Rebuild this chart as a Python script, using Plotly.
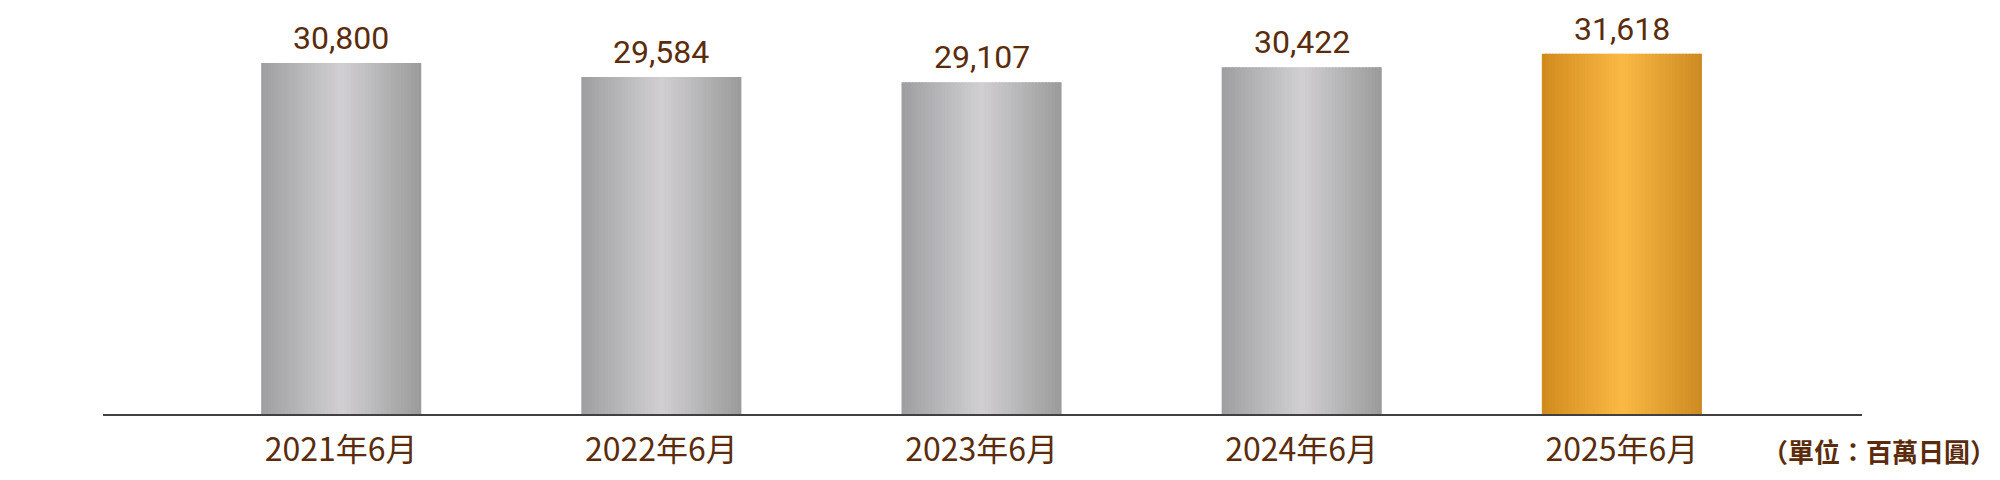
import plotly.graph_objects as go

categories = ["2021年6月", "2022年6月", "2023年6月", "2024年6月", "2025年6月"]
values = [30800, 29584, 29107, 30422, 31618]
highlight = [False, False, False, False, True]
unit_label = "（單位：百萬日圓）"

TEXT_COLOR = "#5a2c0c"
FONT = "Noto Sans CJK TC"
VALUE_FONT = "Roboto"

# gradient stops (left, centre, right)
gray_stops = [(158, 158, 160), (209, 207, 210), (155, 155, 155)]
gold_stops = [(208, 138, 28), (251, 185, 68), (204, 138, 34)]


def interp(stops, t):
    if t <= 0.5:
        a, b, u = stops[0], stops[1], t / 0.5
    else:
        a, b, u = stops[1], stops[2], (t - 0.5) / 0.5
    return "rgb(%d,%d,%d)" % tuple(round(a[i] + (b[i] - a[i]) * u) for i in range(3))


N = 48
BAR_W = 0.5
step = BAR_W / N

fig = go.Figure()
for k in range(N):
    t = (k + 0.5) / N
    colors = [interp(gold_stops if h else gray_stops, t) for h in highlight]
    w = step * 1.6 if k < N - 1 else step
    fig.add_trace(go.Bar(
        x=categories, y=values,
        width=[w] * len(categories),
        offset=[-BAR_W / 2 + k * step] * len(categories),
        marker=dict(color=colors, line=dict(width=0)),
        hoverinfo="skip", showlegend=False,
    ))

for c, v in zip(categories, values):
    fig.add_annotation(
        x=c, y=v, text=f"{v:,}", showarrow=False,
        xref="x", yref="y", yanchor="bottom", yshift=4,
        font=dict(family=VALUE_FONT, size=32, color=TEXT_COLOR),
    )

fig.add_annotation(
    x=1.0773, y=0, xref="paper", yref="paper", xanchor="right", yanchor="top",
    text=unit_label, showarrow=False, yshift=-16,
    font=dict(family=FONT, size=26, color=TEXT_COLOR, weight="bold"),
)

fig.update_layout(
    width=2000, height=480,
    margin=dict(l=95, r=146, t=0, b=74),
    paper_bgcolor="white", plot_bgcolor="white",
    barmode="overlay",
    xaxis=dict(
        type="category", range=[-0.744, 4.75],
        showline=True, linecolor="#404040", linewidth=2,
        showgrid=False, ticks="", zeroline=False,
        ticklabelstandoff=7,
        tickfont=dict(family=FONT, size=32, color=TEXT_COLOR),
    ),
    yaxis=dict(range=[0, 35630], visible=False, showgrid=False),
)

fig.write_html("out.html")
